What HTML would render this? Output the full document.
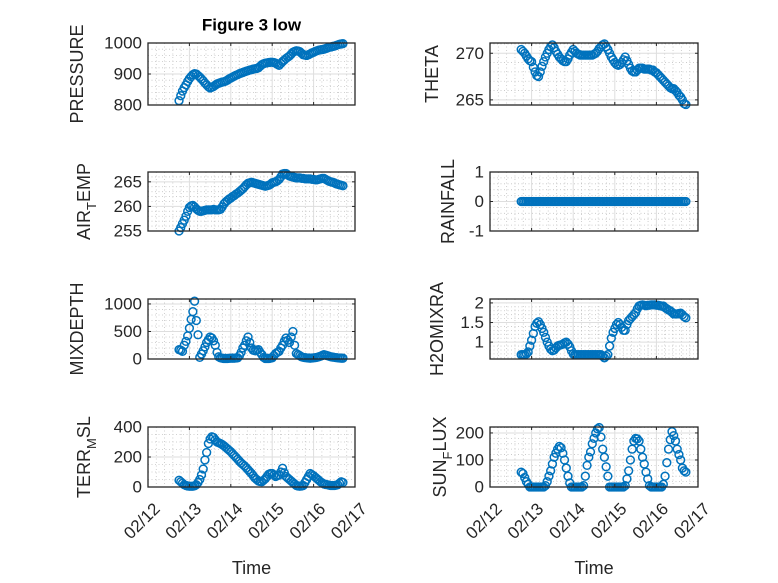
<!DOCTYPE html>
<html><head><meta charset="utf-8"><style>
html,body{margin:0;padding:0;background:#fff;}
svg{display:block;font-family:"Liberation Sans",sans-serif;}
</style></head><body>
<svg id="fig" width="778" height="583" viewBox="0 0 778 583"></svg>
<script>
const xTickLabels = ["02/12","02/13","02/14","02/15","02/16","02/17"];
const startDay = 0.75, stepDay = 1/24;
const pressure = [814,830,845,856,865,876,885,892,898,901,900,895,890,884,878,871,865,859,855,857,860,864,868,870,872,874,875,877,880,884,887,890,893,896,898,901,903,905,907,909,911,913,914,916,917,918,920,925,930,933,935,936,937,938,938,937,935,931,928,934,940,945,950,954,958,964,970,973,975,974,972,967,962,961,960,962,965,968,970,973,975,977,978,979,980,982,984,986,987,989,990,992,994,996,997,998];
const theta = [270.4,270.2,270.0,269.7,269.4,269.2,269.1,268.5,268.0,267.6,267.5,268.0,268.6,269.1,269.6,270.0,270.4,270.7,270.9,270.6,270.2,269.9,269.6,269.4,269.2,269.1,269.1,269.4,269.8,270.1,270.4,270.2,270.0,269.9,269.8,269.8,269.8,269.8,269.8,269.8,269.8,269.8,269.9,270.0,270.2,270.5,270.7,270.9,271.0,270.7,270.4,270.0,269.6,269.3,269.0,268.8,268.7,268.8,269.0,269.3,269.6,269.2,268.8,268.4,268.1,268.0,268.0,268.2,268.4,268.4,268.4,268.3,268.3,268.3,268.3,268.2,268.2,268.0,267.9,267.7,267.5,267.3,267.1,266.9,266.7,266.5,266.3,266.2,266.2,266.0,265.8,265.5,265.3,265.0,264.6,264.5];
const airTemp = [255.0,255.7,256.5,257.2,258.0,259.0,259.8,260.1,260.2,259.9,259.5,259.2,259.0,259.0,259.1,259.2,259.3,259.3,259.3,259.3,259.4,259.3,259.3,259.3,259.4,259.9,260.5,260.9,261.2,261.5,261.7,262.0,262.2,262.5,262.7,263.0,263.3,263.6,264.0,264.4,264.7,264.8,264.9,264.8,264.7,264.6,264.5,264.4,264.3,264.2,264.1,264.2,264.3,264.5,264.8,264.9,265.0,265.2,265.5,266.0,266.6,266.7,266.7,266.4,266.2,266.1,266.0,265.9,265.8,265.8,265.8,265.7,265.7,265.6,265.6,265.6,265.6,265.5,265.5,265.4,265.4,265.5,265.6,265.7,265.7,265.5,265.3,265.1,265.0,264.9,264.8,264.6,264.5,264.4,264.3,264.2];
const rainfall = [0,0,0,0,0,0,0,0,0,0,0,0,0,0,0,0,0,0,0,0,0,0,0,0,0,0,0,0,0,0,0,0,0,0,0,0,0,0,0,0,0,0,0,0,0,0,0,0,0,0,0,0,0,0,0,0,0,0,0,0,0,0,0,0,0,0,0,0,0,0,0,0,0,0,0,0,0,0,0,0,0,0,0,0,0,0,0,0,0,0,0,0,0,0,0,0];
const mixDepth = [170,160,140,250,320,420,560,720,860,1050,700,440,30,90,150,220,300,350,400,380,330,250,120,40,20,15,10,10,10,12,15,15,15,18,20,60,120,200,250,330,400,300,200,160,150,160,170,120,80,30,10,10,10,15,20,60,100,120,140,200,250,320,380,340,300,400,500,250,100,80,60,40,30,25,20,18,15,18,20,25,30,40,50,65,80,70,60,50,40,35,30,25,20,18,15,15];
const h2oMix = [0.68,0.68,0.68,0.70,0.75,0.90,1.05,1.22,1.40,1.48,1.52,1.45,1.35,1.25,1.12,1.00,0.90,0.82,0.78,0.80,0.85,0.90,0.92,0.93,0.95,0.98,1.00,0.95,0.88,0.78,0.70,0.68,0.68,0.68,0.68,0.68,0.68,0.68,0.68,0.68,0.68,0.68,0.68,0.68,0.68,0.68,0.68,0.64,0.60,0.64,0.68,0.90,1.10,1.25,1.35,1.45,1.50,1.45,1.38,1.30,1.30,1.45,1.55,1.60,1.65,1.70,1.75,1.85,1.92,1.94,1.95,1.94,1.93,1.94,1.94,1.95,1.95,1.95,1.94,1.94,1.93,1.92,1.92,1.88,1.85,1.82,1.80,1.76,1.72,1.72,1.72,1.73,1.74,1.70,1.65,1.62];
const terrMsl = [45,35,25,15,10,7,5,5,5,8,15,30,50,80,120,180,230,290,320,335,330,315,300,295,290,283,275,265,255,245,235,222,210,198,185,172,160,150,140,128,115,102,90,75,60,50,40,37,35,45,55,70,85,90,90,80,70,75,80,100,125,95,70,60,50,40,30,20,10,7,5,7,10,30,50,70,90,82,75,65,55,45,35,27,20,17,15,12,10,10,10,12,15,25,35,30];
const sunFlux = [55,50,35,20,10,0,0,0,0,0,0,0,0,0,5,20,40,60,85,110,125,140,150,145,125,100,70,40,15,0,0,0,0,0,0,0,5,40,80,110,130,160,180,200,215,220,185,140,110,75,40,0,0,0,0,0,0,0,0,0,5,30,60,100,140,170,180,178,170,140,110,85,55,30,5,0,0,0,0,0,0,0,10,40,90,140,175,205,190,170,140,120,100,70,60,55];

const NS="http://www.w3.org/2000/svg";
const svg=document.getElementById('fig');
function mk(tag,attrs,parent){const e=document.createElementNS(NS,tag);for(const k in attrs)e.setAttribute(k,attrs[k]);(parent||svg).appendChild(e);return e;}

const panels=[
 {key:'pressure',data:pressure,x0:148,y0:43,w:207,h:62,ylim:[800,1000],yt:[800,900,1000],minor:20,label:['PRESSURE'],lx:77},
 {key:'theta',data:theta,x0:490,y0:43,w:208,h:62,ylim:[264.45,271.1],yt:[265,270],minor:1,label:['THETA'],lx:432},
 {key:'air-temp',data:airTemp,x0:148,y0:172,w:207,h:59,ylim:[255,267],yt:[255,260,265],minor:1,label:['AIR','T','EMP'],lx:84},
 {key:'rainfall',data:rainfall,x0:490,y0:172,w:208,h:59,ylim:[-1,1],yt:[-1,0,1],minor:0.2,label:['RAINFALL'],lx:448},
 {key:'mixdepth',data:mixDepth,x0:148,y0:299,w:207,h:60,ylim:[0,1090],yt:[0,500,1000],minor:100,label:['MIXDEPTH'],lx:77},
 {key:'h2omixra',data:h2oMix,x0:490,y0:299,w:208,h:60,ylim:[0.57,2.1],yt:[1,1.5,2],minor:0.1,label:['H2OMIXRA'],lx:437},
 {key:'terr-msl',data:terrMsl,x0:148,y0:427,w:207,h:60,ylim:[0,400],yt:[0,200,400],minor:50,label:['TERR','M','SL'],lx:84},
 {key:'sun-flux',data:sunFlux,x0:490,y0:427,w:208,h:60,ylim:[0,222],yt:[0,100,200],minor:20,label:['SUN','F','LUX'],lx:440}
];

panels.forEach((p,pi)=>{
  const g=mk('g',{});
  
  
  const xs=d=>p.x0+d/5*p.w;
  const ys=v=>p.y0+p.h-(v-p.ylim[0])/(p.ylim[1]-p.ylim[0])*p.h;
  mk('rect',{x:p.x0,y:p.y0,width:p.w,height:p.h,fill:'#fff'},g);
  for(let i=1;i<25;i++){ if(i%5===0)continue; const x=xs(i/5);
    mk('line',{x1:x,x2:x,y1:p.y0,y2:p.y0+p.h,stroke:'#c4c4c4','stroke-width':0.8,'stroke-dasharray':'1 2.5'},g);}
  const m0=Math.ceil(p.ylim[0]/p.minor-1e-6);
  for(let k=m0;k*p.minor<=p.ylim[1]+1e-9;k++){const v=k*p.minor;
    if(p.yt.some(t=>Math.abs(t-v)<1e-6))continue;
    const y=ys(v); mk('line',{x1:p.x0,x2:p.x0+p.w,y1:y,y2:y,stroke:'#c4c4c4','stroke-width':0.8,'stroke-dasharray':'1 2.5'},g);}
  for(let i=1;i<5;i++){const x=xs(i);mk('line',{x1:x,x2:x,y1:p.y0,y2:p.y0+p.h,stroke:'#dedede','stroke-width':1},g);}
  p.yt.forEach(v=>{const y=ys(v);mk('line',{x1:p.x0,x2:p.x0+p.w,y1:y,y2:y,stroke:'#dedede','stroke-width':1},g);});
  const series=mk('g',{},g);
  
  
  p.data.forEach((v,i)=>{
    const c=mk('circle',{cx:xs(startDay+i*stepDay),cy:ys(v),r:3.9,fill:'none',stroke:'#0072BD','stroke-width':1.5},series);
    
    
  });
  mk('rect',{x:p.x0,y:p.y0,width:p.w,height:p.h,fill:'none',stroke:'#262626','stroke-width':1.3},g);
  for(let i=0;i<=5;i++){const x=xs(i);
    mk('line',{x1:x,x2:x,y1:p.y0+p.h,y2:p.y0+p.h-3,stroke:'#262626','stroke-width':1},g);
    mk('line',{x1:x,x2:x,y1:p.y0,y2:p.y0+3,stroke:'#262626','stroke-width':1},g);}
  p.yt.forEach(v=>{const y=ys(v);
    mk('line',{x1:p.x0,x2:p.x0+3,y1:y,y2:y,stroke:'#262626','stroke-width':1},g);
    mk('line',{x1:p.x0+p.w,x2:p.x0+p.w-3,y1:y,y2:y,stroke:'#262626','stroke-width':1},g);
    const t=mk('text',{x:p.x0-6,y:y,'text-anchor':'end','dominant-baseline':'central','font-size':17,fill:'#262626'},g);
    t.textContent=String(v);
    
    
  });
  if(pi>=6){
    xTickLabels.forEach((lab,i)=>{const x=xs(i);
      const t=mk('text',{transform:`translate(${x+9},${p.y0+p.h+19}) rotate(-45)`,'text-anchor':'end','dominant-baseline':'central','font-size':17,fill:'#262626'},g);
      t.textContent=lab;
      
      
    });
    const xl=mk('text',{x:p.x0+p.w/2,y:568,'text-anchor':'middle','dominant-baseline':'central','font-size':18,fill:'#262626'},g);
    xl.textContent='Time';
    
    
  }
  const yl=mk('text',{transform:`translate(${p.lx},${p.y0+p.h/2}) rotate(-90)`,'text-anchor':'middle','dominant-baseline':'central','font-size':18,fill:'#262626'},g);
  
  
  if(p.label.length===1){yl.textContent=p.label[0];}
  else{
    const a=mk('tspan',{},yl);a.textContent=p.label[0];
    const b=mk('tspan',{'baseline-shift':'sub','font-size':13},yl);b.textContent=p.label[1];
    const d=mk('tspan',{},yl);d.textContent=p.label[2];
  }
});
const title=mk('text',{x:251.5,y:25,'text-anchor':'middle','dominant-baseline':'central','font-size':17,'font-weight':'bold',fill:'#000'});
title.textContent='Figure 3 low';


</script>
</body></html>
